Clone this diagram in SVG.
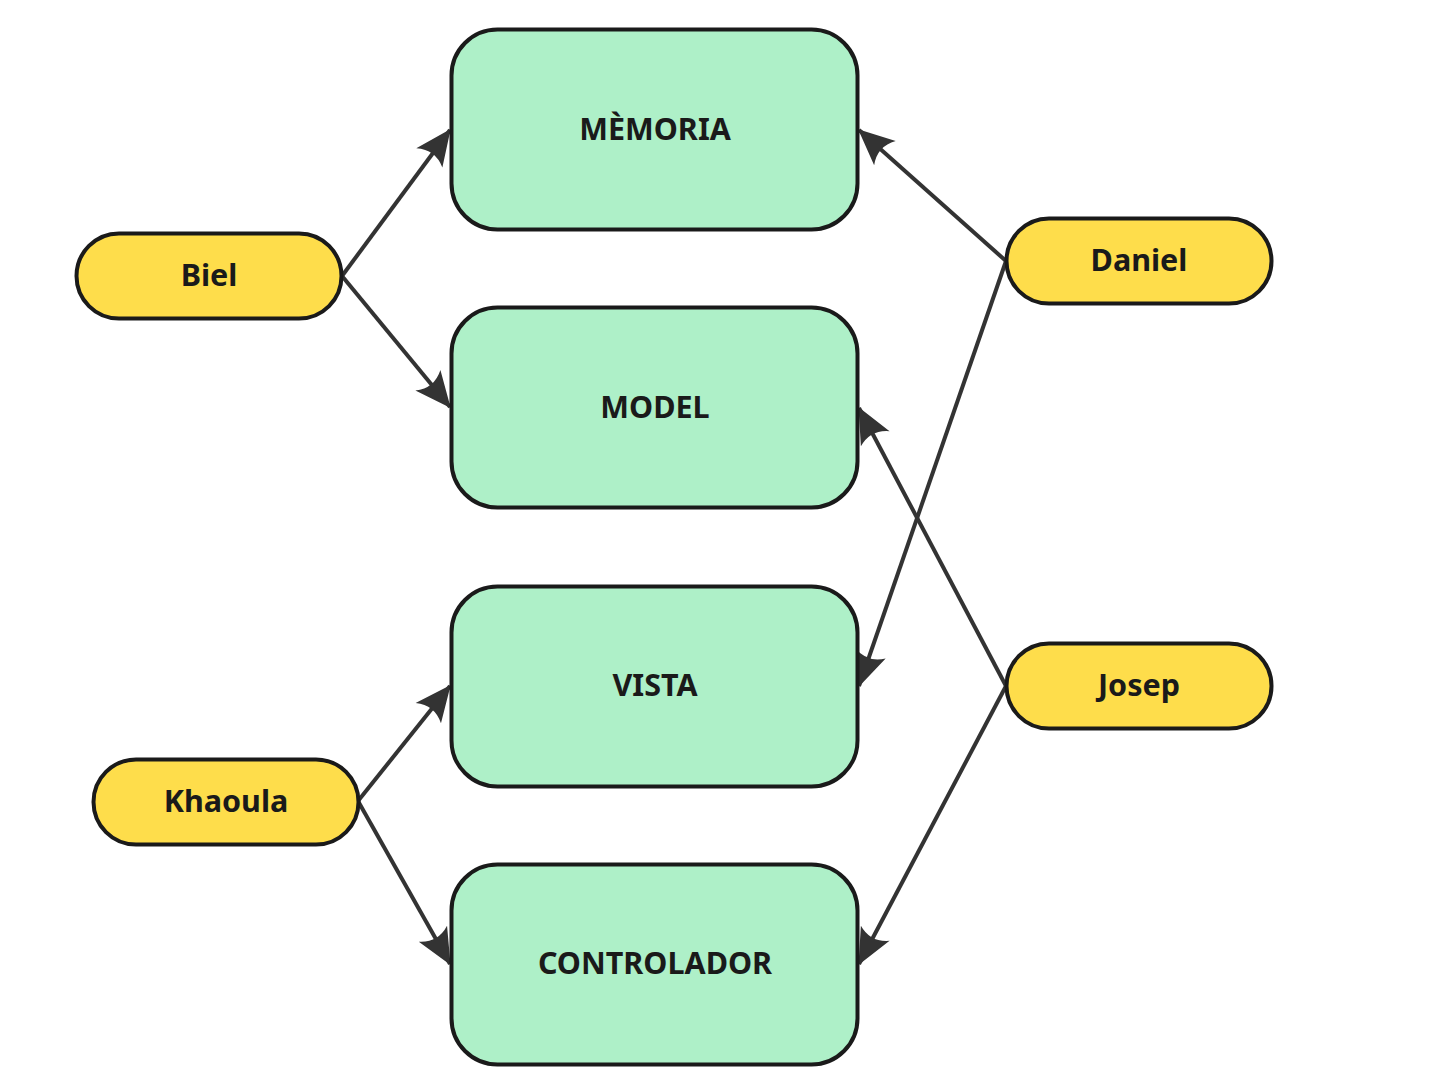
<svg xmlns="http://www.w3.org/2000/svg" width="1437" height="1086" viewBox="0 0 1437 1086">
<style>
.box{fill:#aef0c8;stroke:#1a1a1a;stroke-width:4}
.pill{fill:#fedd4b;stroke:#1a1a1a;stroke-width:4}
.lbl{font-family:"Noto Sans","Open Sans",sans-serif;font-weight:bold;font-size:30.5px;fill:#1a1a1a;text-anchor:middle;dominant-baseline:central}
.edge{stroke:#333333;stroke-width:4;fill:none;marker-end:url(#arr)}
</style>
<defs>
<marker id="arr" markerUnits="userSpaceOnUse" markerWidth="44" markerHeight="44" viewBox="-34 -18 38 36" refX="0" refY="0" orient="auto">
<path d="M1,0 L-30,-14 Q-21,0 -30,14 Z" fill="#333333"/>
</marker>
</defs>
<rect width="1437" height="1086" fill="#ffffff"/>
<g id="connectors">
<line class="edge" x1="342" y1="276" x2="450" y2="130"/>
<line class="edge" x1="342" y1="276" x2="450" y2="407"/>
<line class="edge" x1="1006" y1="261" x2="859" y2="130"/>
<line class="edge" x1="1006" y1="261" x2="859" y2="686"/>
<line class="edge" x1="1006" y1="686" x2="859" y2="408"/>
<line class="edge" x1="1006" y1="686" x2="859" y2="964"/>
<line class="edge" x1="358" y1="801" x2="450" y2="686"/>
<line class="edge" x1="358" y1="801" x2="450" y2="964"/>
</g>
<g id="memoria"><rect class="box" x="451.5" y="29.5" width="406" height="200" rx="46"/><text class="lbl" x="655" y="128">MÈMORIA</text></g>
<g id="model"><rect class="box" x="451.5" y="307.5" width="406" height="200" rx="46"/><text class="lbl" x="655" y="406">MODEL</text></g>
<g id="vista"><rect class="box" x="451.5" y="586.5" width="406" height="200" rx="46"/><text class="lbl" x="655" y="684">VISTA</text></g>
<g id="controlador"><rect class="box" x="451.5" y="864.5" width="406" height="200" rx="46"/><text class="lbl" x="655" y="962">CONTROLADOR</text></g>
<g id="biel"><rect class="pill" x="76.5" y="233.5" width="265" height="85" rx="42.5"/><text class="lbl" x="209" y="274">Biel</text></g>
<g id="daniel"><rect class="pill" x="1006.5" y="218.5" width="265" height="85" rx="42.5"/><text class="lbl" x="1139" y="259">Daniel</text></g>
<g id="josep"><rect class="pill" x="1006.5" y="643.5" width="265" height="85" rx="42.5"/><text class="lbl" x="1139" y="684">Josep</text></g>
<g id="khaoula"><rect class="pill" x="93.5" y="759.5" width="265" height="85" rx="42.5"/><text class="lbl" x="226" y="800">Khaoula</text></g>
</svg>
